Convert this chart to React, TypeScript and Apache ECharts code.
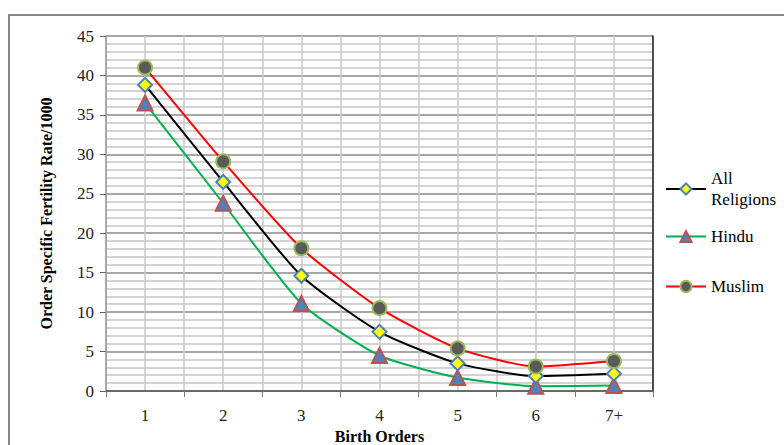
import React, { useEffect, useRef } from "react";
import * as echarts from "echarts";

const categories = ["1", "2", "3", "4", "5", "6", "7+"];
const allReligions = [38.8, 26.5, 14.6, 7.5, 3.5, 1.9, 2.2];
const hindu = [36.5, 23.8, 11.1, 4.5, 1.7, 0.6, 0.7];
const muslim = [41.0, 29.1, 18.1, 10.5, 5.4, 3.1, 3.8];

export default function App() {
  const ref = useRef<HTMLDivElement>(null);
  useEffect(() => {
    document.body.style.margin = "0";
    const chart = echarts.init(ref.current!, undefined, { renderer: "svg" });
    const lbl = { fontFamily: "Liberation Serif", fontSize: 17, color: "#222" };
    const leg = { fontFamily: "Liberation Serif", fontSize: 17, color: "#000", lineHeight: 21 };
    chart.setOption({
      animation: false,
      backgroundColor: "#fff",
      graphic: [
        {
          type: "polyline",
          shape: { points: [[9, 445], [9, 15], [784, 15]] },
          style: { fill: "none", stroke: "#878787", lineWidth: 2 },
        },
      ],
      grid: {
        left: 106,
        top: 36,
        right: 131,
        bottom: 54,
        containLabel: false,
        outerBoundsMode: "none",
      },
      legend: [
        {
          orient: "vertical",
          left: 660,
          top: 163,
          itemWidth: 40,
          itemHeight: 14,
          data: ["All Religions"],
          formatter: () => "All\nReligions",
          textStyle: leg,
        },
        {
          orient: "vertical",
          left: 660,
          top: 221,
          itemWidth: 40,
          itemHeight: 14,
          data: ["Hindu"],
          textStyle: leg,
        },
        {
          orient: "vertical",
          left: 660,
          top: 271,
          itemWidth: 40,
          itemHeight: 14,
          data: ["Muslim"],
          textStyle: leg,
        },
      ],
      xAxis: [
        {
          type: "category",
          data: categories,
          axisLine: { show: true, lineStyle: { color: "#555", width: 1.5 } },
          axisTick: { show: true, length: 6, lineStyle: { color: "#777" } },
          axisLabel: { ...lbl, margin: 16 },
          splitLine: { show: false },
          name: "Birth Orders",
          nameLocation: "middle",
          nameGap: 36,
          nameTextStyle: { fontFamily: "Liberation Serif", fontSize: 16, fontWeight: "bold", color: "#000" },
        },
        {
          type: "value",
          min: 0,
          max: 14,
          interval: 1,
          position: "top",
          axisLine: { show: false },
          axisTick: { show: false },
          axisLabel: { show: false },
          splitLine: { show: true, lineStyle: { color: "#c8c8c8", width: 1.5 } },
        },
      ],
      yAxis: [
        {
          type: "value",
          min: 0,
          max: 45,
          interval: 5,
          axisLine: { show: true, lineStyle: { color: "#999", width: 1.5 } },
          axisTick: { show: true, length: 6, lineStyle: { color: "#666" } },
          axisLabel: { ...lbl, margin: 12 },
          splitLine: { show: true, lineStyle: { color: "#8a8a8a", width: 1.5 } },
          minorTick: { show: false, splitNumber: 5 },
          minorSplitLine: { show: true, lineStyle: { color: "#c4c4c4", width: 1.5 } },
          name: "Order Specific Fertility Rate/1000",
          nameLocation: "middle",
          nameGap: 52,
          nameTextStyle: { fontFamily: "Liberation Serif", fontSize: 16, fontWeight: "bold", color: "#000" },
        },
        {
          type: "value",
          min: 0,
          max: 45,
          interval: 5,
          position: "right",
          axisLine: { show: true, lineStyle: { color: "#222", width: 1.5 } },
          axisTick: { show: false },
          axisLabel: { show: false },
          splitLine: { show: false },
        },
      ],
      series: [
        {
          name: "All Religions",
          type: "line",
          data: allReligions,
          smooth: 0.2,
          symbol: "diamond",
          symbolSize: 14,
          lineStyle: { color: "#000", width: 2 },
          itemStyle: { color: "#ffff00", borderColor: "#4a7ebb", borderWidth: 2 },
          z: 3,
        },
        {
          name: "Hindu",
          type: "line",
          data: hindu,
          smooth: 0.2,
          symbol: "triangle",
          symbolSize: 15,
          lineStyle: { color: "#00b050", width: 2 },
          itemStyle: { color: "#4f81bd", borderColor: "#c0504d", borderWidth: 2 },
          z: 2,
        },
        {
          name: "Muslim",
          type: "line",
          data: muslim,
          smooth: 0.2,
          symbol: "circle",
          symbolSize: 14,
          lineStyle: { color: "#ff0000", width: 2 },
          itemStyle: { color: "#5a5a5a", borderColor: "#9bbb59", borderWidth: 2 },
          z: 4,
        },
      ],
    });
    return () => chart.dispose();
  }, []);
  return <div ref={ref} style={{ width: 784, height: 445 }} />;
}
